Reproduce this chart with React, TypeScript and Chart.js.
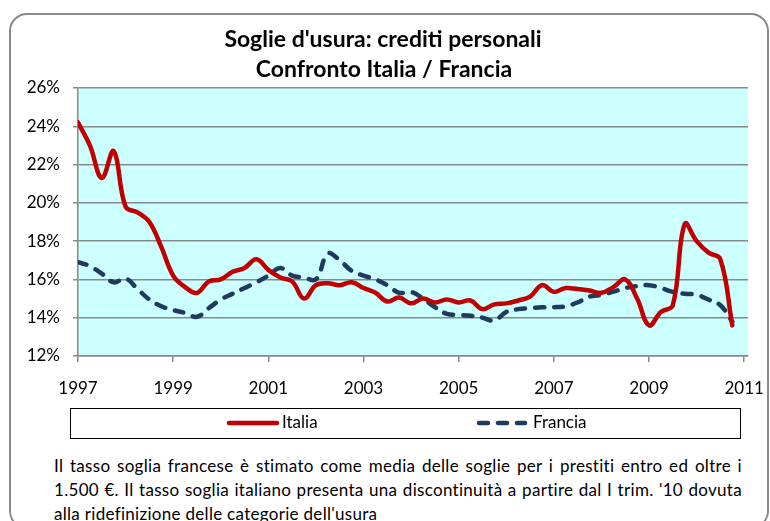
import React, { useEffect, useRef } from "react";
import { Chart, registerables } from "chart.js";

Chart.register(...registerables);

const TITLE_LINES = ["Soglie d'usura: crediti personali", "Confronto Italia / Francia"];

const QUARTERS = [
  "1997-1", "1997-2", "1997-3", "1997-4",
  "1998-1", "1998-2", "1998-3", "1998-4",
  "1999-1", "1999-2", "1999-3", "1999-4",
  "2000-1", "2000-2", "2000-3", "2000-4",
  "2001-1", "2001-2", "2001-3", "2001-4",
  "2002-1", "2002-2", "2002-3", "2002-4",
  "2003-1", "2003-2", "2003-3", "2003-4",
  "2004-1", "2004-2", "2004-3", "2004-4",
  "2005-1", "2005-2", "2005-3", "2005-4",
  "2006-1", "2006-2", "2006-3", "2006-4",
  "2007-1", "2007-2", "2007-3", "2007-4",
  "2008-1", "2008-2", "2008-3", "2008-4",
  "2009-1", "2009-2", "2009-3", "2009-4",
  "2010-1", "2010-2", "2010-3", "2010-4",
];

const ITALIA = [
  24.2, 23.0, 21.3, 22.7, 19.8, 19.5, 19.0, 17.7, 16.2, 15.6,
  15.3, 15.9, 16.0, 16.4, 16.6, 17.05, 16.5, 16.1, 15.9, 15.0,
  15.7, 15.8, 15.7, 15.85, 15.55, 15.3, 14.85, 15.05, 14.75, 15.0,
  14.8, 14.95, 14.8, 14.9, 14.45, 14.7, 14.75, 14.9, 15.1, 15.7,
  15.35, 15.55, 15.5, 15.42, 15.3, 15.6, 16.0, 15.0, 13.6, 14.3,
  14.65, 18.9, 18.0, 17.4, 17.05, 13.6,
];

const FRANCIA = [
  16.9, 16.7, 16.3, 15.85, 16.05, 15.5, 14.95, 14.6, 14.4, 14.25,
  14.05, 14.5, 14.95, 15.25, 15.55, 15.85, 16.2, 16.6, 16.2, 16.1,
  16.0, 17.35, 17.0, 16.45, 16.2, 16.0, 15.7, 15.3, 15.35, 15.0,
  14.55, 14.2, 14.15, 14.1, 14.0, 13.85, 14.3, 14.45, 14.5, 14.55,
  14.55, 14.6, 14.8, 15.1, 15.2, 15.36, 15.55, 15.65, 15.7, 15.55,
  15.35, 15.25, 15.2, 14.95, 14.65, 13.8,
];

const X_TICKS = [1997, 1999, 2001, 2003, 2005, 2007, 2009, 2011];
const Y_TICKS = [12, 14, 16, 18, 20, 22, 24, 26];

const NOTE_LINES = [
  "Il tasso soglia francese è stimato come media delle soglie per i prestiti entro ed oltre i",
  "1.500 €. Il tasso soglia italiano presenta una discontinuità a partire dal I trim. '10 dovuta",
  "alla ridefinizione delle categorie dell'usura",
];

const FONT = "Lato, 'Open Sans', sans-serif";

function quarterToX(q: string): number {
  const [y, n] = q.split("-").map(Number);
  return y + (n - 1) / 4;
}

const bgPlugin = {
  id: "plotBg",
  beforeDraw(chart: any) {
    const { ctx, chartArea } = chart;
    ctx.save();
    ctx.fillStyle = "#CCFFFF";
    ctx.fillRect(chartArea.left, chartArea.top, chartArea.right - chartArea.left, chartArea.bottom - chartArea.top);
    ctx.restore();
  },
};

const titlePlugin = {
  id: "centerTitle",
  afterDraw(chart: any) {
    const { ctx } = chart;
    ctx.save();
    ctx.fillStyle = "#000";
    ctx.font = `bold 23px ${FONT}`;
    ctx.textAlign = "center";
    ctx.textBaseline = "middle";
    ctx.fillText(TITLE_LINES[0], 383, 40);
    ctx.fillText(TITLE_LINES[1], 384, 70);
    ctx.restore();
  },
};

const legendPlugin = {
  id: "boxLegend",
  afterDraw(chart: any) {
    const { ctx } = chart;
    const boxL = 70, boxT = 408, boxW = 670, boxH = 30;
    ctx.save();
    ctx.strokeStyle = "#000";
    ctx.lineWidth = 1;
    ctx.setLineDash([]);
    ctx.strokeRect(boxL + 0.5, boxT + 0.5, boxW, boxH);
    const cy = boxT + boxH / 2;
    const items = [
      { ds: chart.data.datasets[0], x0: 229, x1: 277, tx: 282 },
      { ds: chart.data.datasets[1], x0: 479, x1: 525, tx: 533 },
    ];
    items.forEach((it) => {
      ctx.beginPath();
      ctx.strokeStyle = it.ds.borderColor;
      ctx.lineWidth = it.ds.borderWidth;
      ctx.lineCap = "round";
      ctx.setLineDash(it.ds.borderDash || []);
      ctx.moveTo(it.x0, cy);
      ctx.lineTo(it.x1, cy);
      ctx.stroke();
      ctx.setLineDash([]);
      ctx.fillStyle = "#000";
      ctx.font = `17px ${FONT}`;
      ctx.textBaseline = "middle";
      ctx.textAlign = "left";
      ctx.fillText(it.ds.label, it.tx, cy);
    });
    ctx.restore();
  },
};

export default function App() {
  const ref = useRef<HTMLCanvasElement | null>(null);

  useEffect(() => {
    document.body.style.margin = "0";
    if (!ref.current) return;
    const chart = new Chart(ref.current, {
      type: "line",
      data: {
        datasets: [
          {
            label: "Italia",
            data: QUARTERS.map((q, i) => ({ x: quarterToX(q), y: ITALIA[i] })),
            borderColor: "#C00000",
            borderWidth: 4.5,
            pointRadius: 0,
            tension: 0.4,
            borderCapStyle: "round",
            borderJoinStyle: "round",
            fill: false,
          },
          {
            label: "Francia",
            data: QUARTERS.map((q, i) => ({ x: quarterToX(q), y: FRANCIA[i] })),
            borderColor: "#1F3A5F",
            borderWidth: 4.5,
            borderDash: [9, 10],
            pointRadius: 0,
            tension: 0.4,
            borderCapStyle: "round",
            borderJoinStyle: "round",
            fill: false,
          },
        ],
      },
      options: {
        animation: false,
        responsive: false,
        maintainAspectRatio: false,
        layout: { padding: { left: 0, right: 22, top: 88, bottom: 44 } },
        plugins: {
          legend: { display: false },
          tooltip: { enabled: false },
          title: { display: false },
        },
        scales: {
          x: {
            type: "linear",
            min: 1997,
            max: 2011.08,
            afterBuildTicks: (scale: any) => {
              scale.ticks = X_TICKS.map((v) => ({ value: v }));
            },
            afterFit: (scale: any) => {
              scale.height = 50;
              scale.paddingLeft = 0;
              scale.paddingRight = 0;
            },
            ticks: {
              color: "#000",
              font: { family: FONT, size: 17 },
              padding: 16,
              maxRotation: 0,
              autoSkip: false,
              callback: (v: any) => String(v),
            },
            grid: {
              display: true,
              drawOnChartArea: false,
              drawTicks: true,
              tickLength: 6,
              color: "#888",
              lineWidth: 1.5,
            },
            border: { display: true, color: "#888", width: 1.5 },
          },
          y: {
            type: "linear",
            min: 12,
            max: 26,
            afterBuildTicks: (scale: any) => {
              scale.ticks = Y_TICKS.map((v) => ({ value: v }));
            },
            afterFit: (scale: any) => {
              scale.width = 78;
              scale.paddingTop = 0;
              scale.paddingBottom = 0;
            },
            ticks: {
              color: "#000",
              font: { family: FONT, size: 17 },
              padding: 13,
              callback: (v: any) => v + "%",
            },
            grid: {
              color: "#888",
              lineWidth: 1.5,
              drawTicks: true,
              tickLength: 5,
            },
            border: { display: true, color: "#888", width: 1.5 },
          },
        },
      },
      plugins: [bgPlugin, titlePlugin, legendPlugin],
    });
    return () => chart.destroy();
  }, []);

  return (
    <div style={{ position: "relative", width: 770, height: 521, overflow: "hidden", background: "#fff" }}>
      <div
        style={{
          position: "absolute",
          left: 9,
          top: 13,
          width: 760,
          height: 516,
          boxSizing: "border-box",
          border: "2px solid #8a8a8a",
          borderRadius: 18,
        }}
      />
      <canvas ref={ref} width={770} height={450} style={{ position: "absolute", left: 0, top: 0, width: 770, height: 450 }} />
      <div
        style={{
          position: "absolute",
          left: 54,
          top: 454,
          width: 688,
          fontFamily: FONT,
          fontSize: 17,
          letterSpacing: "0.3px",
          lineHeight: "24px",
          color: "#000",
        }}
      >
        {NOTE_LINES.map((t, i) => (
          <div
            key={i}
            style={{
              whiteSpace: "nowrap",
              textAlign: i < 2 ? "justify" : "left",
              textAlignLast: i < 2 ? "justify" : "left",
            }}
          >
            {t}
          </div>
        ))}
      </div>
    </div>
  );
}
